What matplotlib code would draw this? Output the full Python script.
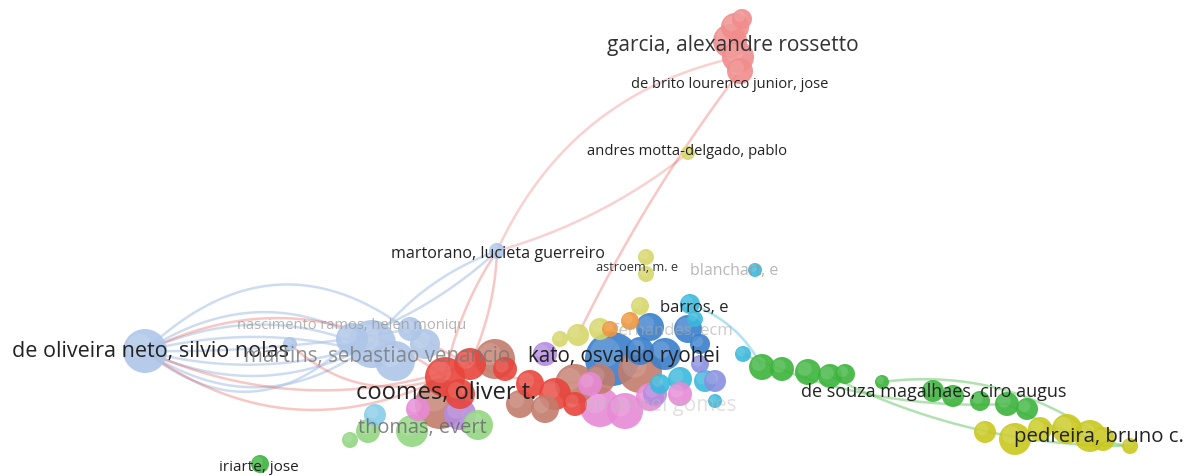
import numpy as np
import matplotlib
matplotlib.use("Agg")
import matplotlib.pyplot as plt
from matplotlib.patches import Circle
from matplotlib import font_manager

# narrow face if there is one, otherwise plain sans
names = {f.name for f in font_manager.fontManager.ttflist}
FONT = "Liberation Sans Narrow" if "Liberation Sans Narrow" in names else "Open Sans"

cluster_colors = {
    "blue": "#aec6e8", "garcia": "#f08c8c", "red": "#e8453c", "brown": "#c27c6c",
    "olive": "#d6d66a", "orange": "#f0963c", "dblue": "#3a7fcc", "cyan": "#3ab8dc",
    "lilac": "#b48be0", "magenta": "#e78ad6", "slate": "#8a90e0", "green": "#3cb43c",
    "lgreen": "#93d682", "sky": "#87cde8", "yellow": "#c9c81e",
}

# nodes: x, y (screen units), radius, cluster
node_x = [145, 290, 497, 372, 395, 352, 425, 410,
          735, 730, 738, 740, 742,
          445, 470, 460, 555, 530, 575, 505,
          440, 495, 545, 575, 640, 520, 600,
          688, 646, 646, 640, 578, 600, 560,
          630, 610,
          612, 650, 688, 665, 640, 700,
          690, 755, 743, 705, 715, 680, 660, 695,
          545, 460, 655,
          600, 625, 650, 680, 418, 590,
          715, 700,
          762, 782, 808, 830, 845, 882, 933, 953, 980, 1007, 1027, 260,
          412, 478, 368, 350,
          375,
          985, 1015, 1040, 1067, 1090, 1103, 1130]
node_y = [352, 345, 252, 345, 362, 340, 345, 330,
          28, 42, 58, 72, 20,
          378, 365, 395, 395, 385, 405, 370,
          405, 360, 410, 385, 372, 405, 380,
          154, 258, 275, 307, 336, 330, 340,
          322, 330,
          360, 328, 330, 355, 352, 345,
          305, 271, 355, 382, 402, 380, 385, 320,
          355, 415, 395,
          408, 412, 398, 395, 410, 385,
          382, 365,
          368, 370, 373, 377, 375, 383, 392, 397, 402, 405, 410, 465,
          432, 426, 432, 441,
          416,
          433, 440, 430, 430, 437, 440, 447]
node_r = [22, 7, 8, 24, 20, 16, 15, 12,
          14, 17, 16, 13, 10,
          20, 16, 15, 16, 14, 12, 12,
          25, 20, 14, 20, 22, 14, 15,
          7, 8, 8, 9, 11, 11, 8,
          9, 8,
          27, 14, 14, 16, 14, 10,
          10, 7, 8, 11, 7, 12, 10, 8,
          12, 16, 12,
          20, 18, 14, 12, 12, 12,
          11, 9,
          13, 12, 13, 12, 10, 7, 11, 11, 10, 12, 11, 9,
          16, 15, 12, 8,
          11,
          11, 16, 12, 15, 16, 12, 8]
node_c = (["blue"] * 8 + ["garcia"] * 5 + ["red"] * 7 + ["brown"] * 7 + ["olive"] * 7
          + ["orange"] * 2 + ["dblue"] * 6 + ["cyan"] * 8 + ["lilac"] * 3 + ["magenta"] * 6
          + ["slate"] * 2 + ["green"] * 12 + ["lgreen"] * 4 + ["sky"] + ["yellow"] * 7)

# links: from, to, bend, colour
edges = [
    (0, 3, 0.35, "blue"), (0, 3, 0.25, "blue"), (0, 3, 0.15, "blue"),
    (0, 4, -0.15, "blue"), (0, 4, -0.25, "blue"), (0, 4, -0.35, "blue"),
    (0, 5, 0.45, "blue"), (0, 6, -0.45, "blue"), (0, 7, 0.05, "blue"),
    (0, 13, 0.3, "red"), (0, 13, -0.3, "red"), (0, 14, 0.2, "red"),
    (10, 2, 0.25, "garcia"), (27, 2, -0.1, "garcia"), (11, 31, 0.05, "red"),
    (2, 3, 0.15, "blue"), (2, 5, -0.1, "blue"), (2, 13, 0.1, "red"), (2, 14, -0.1, "red"),
    (1, 13, 0.3, "red"), (7, 24, 0.25, "red"),
    (44, 70, 0.12, "green"), (64, 84, 0.12, "green"), (66, 83, -0.2, "green"),
    (70, 84, 0.1, "green"), (42, 61, -0.2, "cyan"), (30, 36, 0.2, "olive"),
]
edge_alpha = {"blue": 0.6, "red": 0.3, "garcia": 0.4, "green": 0.4, "cyan": 0.4, "olive": 0.4}

# labels: text, x, y, size, grey, alpha
lab_text = ["garcia, alexandre rossetto", "de brito lourenco junior, jose",
            "andres motta-delgado, pablo", "martorano, lucieta guerreiro",
            "astroem, m. e", "blanchart, e", "barros, e", "fernandes, ecm",
            "nascimento ramos, helen moniqu", "de oliveira neto, silvio nolas",
            "martins, sebastiao venancio", "kato, osvaldo ryohei", "coomes, oliver t.",
            "de souza magalhaes, ciro augus", "thomas, evert", "emanoel gomes",
            "pedreira, bruno c.", "iriarte, jose"]
lab_x = [733, 730, 687, 498, 637, 734, 694, 673, 352, 150, 377, 624, 446, 934, 422, 660, 1099, 259]
lab_y = [45, 84, 152, 254, 268, 271, 308, 331, 326, 352, 357, 357, 393, 392, 428, 406, 437, 468]
lab_size = [15, 10.5, 10.6, 11.6, 9.2, 11.5, 12, 12, 10.5, 15.5, 14.8, 14.8, 17, 13, 14.4, 14.8, 14.7, 11]
lab_grey = ["#333333", "#222222", "#222222", "#222222", "#333333", "#999999", "#222222",
            "#aaaaaa", "#999999", "#222222", "#777777", "#222222", "#222222", "#222222",
            "#666666", "#bbbbbb", "#222222", "#222222"]
lab_alpha = [1, 1, 1, 1, 1, 0.7, 1, 0.6, 0.75, 1, 0.8, 1, 1, 1, 0.8, 0.45, 1, 1]


def bezier(p0, p1, bend, n=60):
    p0, p1 = np.asarray(p0, float), np.asarray(p1, float)
    d = p1 - p0
    normal = np.array([-d[1], d[0]])
    ctrl = (p0 + p1) / 2 + bend * normal
    t = np.linspace(0, 1, n)[:, None]
    return (1 - t) ** 2 * p0 + 2 * (1 - t) * t * ctrl + t ** 2 * p1


W, H = 1188, 477
fig = plt.figure(figsize=(W / 100, H / 100), dpi=100)
ax = fig.add_axes([0, 0, 1, 1])
ax.set_xlim(0, W)
ax.set_ylim(H, 0)
ax.set_aspect("equal")
ax.axis("off")

for a, b, bend, c in edges:
    pts = bezier((node_x[a], node_y[a]), (node_x[b], node_y[b]), bend)
    ax.plot(pts[:, 0], pts[:, 1], color=cluster_colors[c], lw=1.8, alpha=edge_alpha[c],
            solid_capstyle="round", zorder=1)

# bigger bubbles first so small ones sit on top
order = np.argsort(node_r)[::-1]
for i in order:
    x, y, r = node_x[i], node_y[i], node_r[i]
    col = cluster_colors[node_c[i]]
    ax.add_patch(Circle((x, y), r, facecolor=col, edgecolor="none", alpha=0.9, zorder=2))
    ax.add_patch(Circle((x - r * 0.25, y - r * 0.25), r * 0.55, facecolor="white",
                        edgecolor="none", alpha=0.12, zorder=2))

for t, x, y, s, g, a in zip(lab_text, lab_x, lab_y, lab_size, lab_grey, lab_alpha):
    ax.text(x, y, t, fontsize=s, color=g, alpha=a, ha="center", va="center",
            family=[FONT, "DejaVu Sans"], zorder=3)

fig.savefig("out.png", dpi=100, facecolor="white")
